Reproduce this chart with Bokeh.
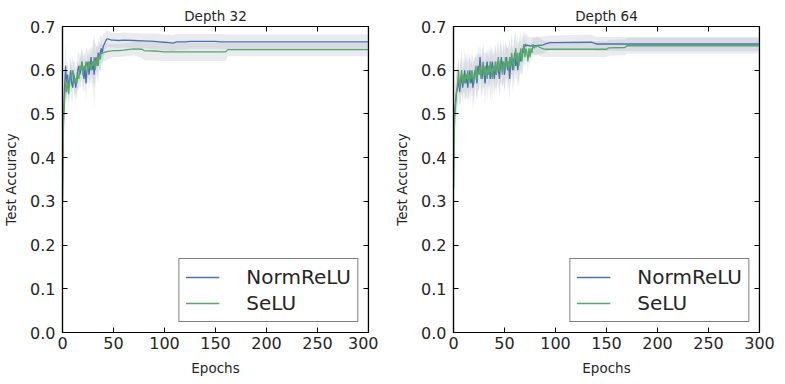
from bokeh.plotting import figure
from bokeh.models import Range1d, FixedTicker, LinearAxis, CustomJSTickFormatter, PrintfTickFormatter
from bokeh.layouts import row
from bokeh.embed import file_html
from bokeh.resources import INLINE

# ---------------- data ----------------
x_ticks = [0, 50, 100, 150, 200, 250, 300]
y_ticks = [0.0, 0.1, 0.2, 0.3, 0.4, 0.5, 0.6, 0.7]
series_names = ["NormReLU", "SeLU"]
titles = ["Depth 32", "Depth 64"]

# Depth 32
ep32 = list(range(0, 46)) + [48, 50, 55, 60, 70, 78, 80, 90, 95, 100, 105, 108,
                             112, 120, 125, 150, 155, 160, 162, 200, 250, 300]
norm32 = [0.30, 0.50, 0.56, 0.61, 0.57, 0.59, 0.56, 0.58, 0.60, 0.57,
          0.56, 0.59, 0.58, 0.56, 0.58, 0.60, 0.61, 0.59, 0.60, 0.62,
          0.60, 0.58, 0.61, 0.57, 0.60, 0.62, 0.59, 0.61, 0.63, 0.60,
          0.62, 0.59, 0.62, 0.63, 0.61, 0.64, 0.63, 0.64, 0.65, 0.64,
          0.655, 0.66, 0.665, 0.67, 0.672, 0.671,
          0.669, 0.669, 0.668, 0.669, 0.668, 0.667, 0.667, 0.666, 0.665, 0.664, 0.663, 0.662,
          0.665, 0.665, 0.666, 0.666, 0.665, 0.665, 0.665, 0.665, 0.665, 0.665]
selu32 = [0.30, 0.48, 0.53, 0.57, 0.55, 0.58, 0.545, 0.57, 0.59, 0.58,
          0.60, 0.59, 0.57, 0.58, 0.57, 0.59, 0.58, 0.61, 0.60, 0.62,
          0.59, 0.61, 0.60, 0.62, 0.61, 0.60, 0.62, 0.61, 0.60, 0.62,
          0.61, 0.63, 0.60, 0.62, 0.63, 0.61, 0.635, 0.625, 0.64, 0.638,
          0.640, 0.641, 0.641, 0.642, 0.643, 0.643,
          0.644, 0.645, 0.645, 0.646, 0.649, 0.648, 0.645, 0.644, 0.643, 0.642, 0.642, 0.642,
          0.642, 0.642, 0.642, 0.642, 0.642, 0.642, 0.647, 0.647, 0.647, 0.647]
norm32_ci = [0.02, 0.04, 0.04, 0.05, 0.04, 0.03, 0.03, 0.03, 0.03, 0.04,
             0.03, 0.03, 0.04, 0.03, 0.03, 0.04, 0.03, 0.03, 0.04, 0.03,
             0.04, 0.03, 0.04, 0.04, 0.03, 0.03, 0.04, 0.03, 0.03, 0.04,
             0.05, 0.08, 0.04, 0.03, 0.04, 0.03, 0.03, 0.04, 0.03, 0.03,
             0.03, 0.025, 0.02, 0.02, 0.018, 0.018,
             0.017, 0.017, 0.017, 0.017, 0.017, 0.017, 0.017, 0.018, 0.018, 0.018, 0.018, 0.018,
             0.018, 0.018, 0.017, 0.017, 0.017, 0.017, 0.017, 0.017, 0.017, 0.017]
selu32_ci = [0.02, 0.04, 0.04, 0.03, 0.03, 0.03, 0.03, 0.03, 0.04, 0.03,
             0.03, 0.03, 0.03, 0.03, 0.04, 0.03, 0.03, 0.03, 0.03, 0.03,
             0.04, 0.03, 0.03, 0.03, 0.04, 0.03, 0.03, 0.04, 0.03, 0.03,
             0.04, 0.06, 0.04, 0.03, 0.03, 0.04, 0.03, 0.03, 0.03, 0.02,
             0.02, 0.02, 0.02, 0.02, 0.018, 0.018,
             0.016, 0.015, 0.015, 0.015, 0.015, 0.02, 0.022, 0.022, 0.022, 0.021, 0.021, 0.021,
             0.021, 0.021, 0.021, 0.021, 0.021, 0.021, 0.015, 0.015, 0.015, 0.015]

# Depth 64
ep64 = list(range(0, 86)) + [88, 90, 95, 100, 135, 140, 150, 152, 168, 170, 200, 250, 300]
norm64 = [0.33, 0.50, 0.53, 0.55, 0.56, 0.58, 0.55, 0.57, 0.59, 0.56,
          0.58, 0.60, 0.57, 0.59, 0.56, 0.58, 0.60, 0.57, 0.59, 0.56,
          0.58, 0.60, 0.59, 0.57, 0.61, 0.59, 0.63, 0.60, 0.58, 0.61,
          0.59, 0.57, 0.60, 0.62, 0.59, 0.61, 0.58, 0.60, 0.62, 0.60,
          0.58, 0.61, 0.59, 0.62, 0.60, 0.58, 0.61, 0.63, 0.60, 0.62,
          0.59, 0.61, 0.63, 0.60, 0.62, 0.58, 0.61, 0.63, 0.60, 0.62,
          0.64, 0.61, 0.63, 0.60, 0.62, 0.64, 0.62, 0.63, 0.65, 0.64,
          0.66, 0.655, 0.658, 0.656, 0.657, 0.655, 0.656, 0.656, 0.655, 0.656,
          0.656, 0.656, 0.657, 0.657, 0.657, 0.657,
          0.658, 0.660, 0.663, 0.663, 0.664, 0.660, 0.660, 0.660, 0.660, 0.660, 0.660, 0.660, 0.660]
selu64 = [0.33, 0.49, 0.52, 0.55, 0.57, 0.60, 0.56, 0.58, 0.60, 0.57,
          0.59, 0.57, 0.59, 0.58, 0.60, 0.57, 0.59, 0.58, 0.60, 0.59,
          0.57, 0.59, 0.61, 0.58, 0.60, 0.59, 0.61, 0.58, 0.60, 0.62,
          0.59, 0.61, 0.60, 0.58, 0.61, 0.59, 0.62, 0.60, 0.58, 0.61,
          0.60, 0.62, 0.59, 0.61, 0.63, 0.60, 0.62, 0.61, 0.59, 0.62,
          0.60, 0.63, 0.61, 0.62, 0.60, 0.63, 0.61, 0.64, 0.62, 0.60,
          0.63, 0.65, 0.62, 0.64, 0.61, 0.63, 0.65, 0.62, 0.64, 0.66,
          0.63, 0.65, 0.64, 0.62, 0.65, 0.63, 0.65, 0.64, 0.66, 0.65,
          0.655, 0.653, 0.656, 0.655, 0.653, 0.652,
          0.649, 0.648, 0.648, 0.648, 0.648, 0.648, 0.648, 0.651, 0.652, 0.656, 0.656, 0.656, 0.656]
norm64_ci = [0.02, 0.04, 0.04, 0.05, 0.04, 0.04, 0.03, 0.05, 0.04, 0.04,
             0.03, 0.05, 0.04, 0.05, 0.03, 0.04, 0.04, 0.05, 0.03, 0.05,
             0.04, 0.03, 0.04, 0.04, 0.05, 0.04, 0.03, 0.04, 0.04, 0.05,
             0.03, 0.05, 0.04, 0.03, 0.04, 0.04, 0.05, 0.05, 0.03, 0.04,
             0.04, 0.05, 0.03, 0.05, 0.04, 0.04, 0.05, 0.03, 0.04, 0.05,
             0.04, 0.04, 0.03, 0.05, 0.04, 0.05, 0.04, 0.03, 0.05, 0.04,
             0.04, 0.03, 0.05, 0.04, 0.04, 0.04, 0.03, 0.04, 0.03, 0.03,
             0.03, 0.025, 0.025, 0.02, 0.02, 0.02, 0.02, 0.02, 0.02, 0.02,
             0.02, 0.02, 0.02, 0.02, 0.02, 0.02,
             0.019, 0.018, 0.017, 0.017, 0.017, 0.016, 0.016, 0.016, 0.016, 0.016, 0.016, 0.016, 0.016]
selu64_ci = [0.02, 0.04, 0.05, 0.04, 0.04, 0.03, 0.04, 0.04, 0.05, 0.03,
             0.04, 0.04, 0.05, 0.03, 0.04, 0.05, 0.04, 0.03, 0.04, 0.04,
             0.05, 0.04, 0.03, 0.05, 0.04, 0.04, 0.03, 0.05, 0.04, 0.04,
             0.05, 0.03, 0.04, 0.05, 0.04, 0.03, 0.04, 0.04, 0.05, 0.03,
             0.04, 0.04, 0.05, 0.03, 0.04, 0.04, 0.05, 0.04, 0.03, 0.04,
             0.05, 0.04, 0.04, 0.03, 0.05, 0.04, 0.04, 0.05, 0.03, 0.04,
             0.05, 0.04, 0.03, 0.04, 0.05, 0.04, 0.04, 0.03, 0.04, 0.03,
             0.03, 0.03, 0.025, 0.025, 0.02, 0.02, 0.02, 0.02, 0.02, 0.02,
             0.02, 0.02, 0.02, 0.02, 0.02, 0.02,
             0.019, 0.018, 0.018, 0.018, 0.018, 0.018, 0.018, 0.018, 0.018, 0.018, 0.018, 0.018, 0.018]

# ---------------- style ----------------
BLUE = "#4C72B0"
GREEN = "#55A868"
BAND = "#9aa3b8"
TXT = "#262626"
FONT = "DejaVu Sans"


def style_axis(ax, show_labels):
    ax.axis_line_color = "black"
    ax.axis_line_width = 1.2
    ax.major_tick_in = 5
    ax.major_tick_out = 0
    ax.minor_tick_in = 0
    ax.minor_tick_out = 0
    ax.major_tick_line_color = "black"
    ax.major_tick_line_width = 1
    ax.major_label_text_font = FONT
    ax.major_label_text_color = TXT
    if show_labels:
        ax.major_label_text_font_size = "16px"
    else:
        ax.major_label_text_font_size = "0px"
        ax.major_label_standoff = 0
        ax.formatter = CustomJSTickFormatter(code="return '';")


def make(title, ep, norm, selu, norm_ci, selu_ci, left, right):
    p = figure(frame_width=306, frame_height=306, output_backend="svg",
               toolbar_location=None, x_range=Range1d(0, 300), y_range=Range1d(0, 0.7),
               min_border_left=left, min_border_right=right,
               min_border_top=26, min_border_bottom=40)
    p.background_fill_color = "white"
    p.border_fill_color = "white"
    p.outline_line_color = "black"
    p.outline_line_width = 1.2
    p.xgrid.visible = False
    p.ygrid.visible = False

    p.title.text = title
    p.title.align = "center"
    p.title.text_font = FONT
    p.title.text_font_size = "13.5px"
    p.title.text_font_style = "normal"
    p.title.text_color = TXT
    p.title.standoff = 5

    p.varea(x=ep, y1=[m - c for m, c in zip(selu, selu_ci)],
            y2=[m + c for m, c in zip(selu, selu_ci)], fill_color=BAND, fill_alpha=0.22)
    p.varea(x=ep, y1=[m - c for m, c in zip(norm, norm_ci)],
            y2=[m + c for m, c in zip(norm, norm_ci)], fill_color=BAND, fill_alpha=0.22)
    p.line(ep, norm, line_color=BLUE, line_width=1.3, legend_label=series_names[0])
    p.line(ep, selu, line_color=GREEN, line_width=1.3, legend_label=series_names[1])

    p.xaxis.ticker = FixedTicker(ticks=x_ticks)
    p.yaxis.ticker = FixedTicker(ticks=y_ticks)
    p.yaxis.formatter = PrintfTickFormatter(format="%.1f")
    style_axis(p.xaxis[0], True)
    style_axis(p.yaxis[0], True)
    p.xaxis.major_label_standoff = 4
    p.yaxis.major_label_standoff = 7
    p.xaxis.axis_label = "Epochs"
    p.yaxis.axis_label = "Test Accuracy"
    for ax in (p.xaxis[0], p.yaxis[0]):
        ax.axis_label_text_font = FONT
        ax.axis_label_text_font_size = "13.5px"
        ax.axis_label_text_font_style = "normal"
        ax.axis_label_text_color = TXT
    p.xaxis.axis_label_standoff = 8
    p.yaxis.axis_label_standoff = 8

    top = LinearAxis(ticker=FixedTicker(ticks=x_ticks), fixed_location=0.7)
    style_axis(top, False)
    p.add_layout(top, "above")
    rgt = LinearAxis(ticker=FixedTicker(ticks=y_ticks), fixed_location=300)
    style_axis(rgt, False)
    p.add_layout(rgt, "right")

    lg = p.legend[0]
    lg.location = "bottom_right"
    lg.margin = 10
    lg.padding = 6
    lg.spacing = 2
    lg.glyph_width = 34
    lg.label_standoff = 27
    lg.label_text_font = FONT
    lg.label_text_font_size = "20px"
    lg.label_text_color = TXT
    lg.border_line_color = "black"
    lg.border_line_width = 1.2
    lg.background_fill_alpha = 1.0
    return p


p1 = make(titles[0], ep32, norm32, selu32, norm32_ci, selu32_ci, 55, 10)
p2 = make(titles[1], ep64, norm64, selu64, norm64_ci, selu64_ci, 75, 17)

layout = row(p1, p2)
open("out.html", "w").write(file_html(layout, INLINE))
